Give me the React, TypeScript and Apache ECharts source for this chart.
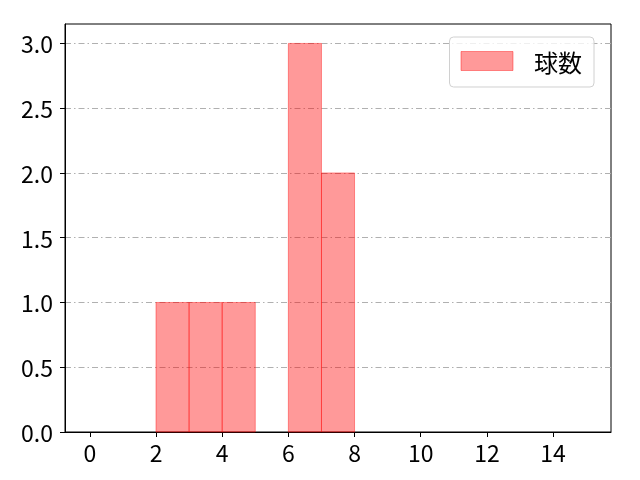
import React, { useEffect, useRef } from 'react';
import * as echarts from 'echarts';

// histogram bins (start, end) and counts
const binStarts = [2, 3, 4, 6, 7];
const binEnds = [3, 4, 5, 7, 8];
const counts = [1, 1, 1, 3, 2];

const xTicks = [0, 2, 4, 6, 8, 10, 12, 14];
const yTicks = [0, 0.5, 1.0, 1.5, 2.0, 2.5, 3.0];
const seriesName = '球数';

const FONT = '"Noto Sans CJK JP", "Noto Sans", sans-serif';
const FILL = 'rgba(255,0,0,0.4)';

export default function App() {
    const chartRef = useRef<HTMLDivElement>(null);

    useEffect(() => {
        const chart = echarts.init(chartRef.current!, null, { renderer: 'svg' });

        const data = binStarts.map((s, i) => [s, binEnds[i], counts[i]]);

        chart.setOption({
            animation: false,
            textStyle: { fontFamily: FONT },
            grid: {
                left: 65,
                right: 29,
                top: 24,
                bottom: 48,
                show: true,
                borderColor: '#000',
                borderWidth: 1,
            },
            legend: {
                right: 46,
                top: 37,
                padding: [12, 12, 14, 11],
                backgroundColor: 'rgba(255,255,255,0.8)',
                borderColor: '#d0d0d0',
                borderWidth: 1,
                borderRadius: 4,
                itemWidth: 52,
                itemHeight: 19,
                data: [{
                    name: seriesName,
                    icon: 'rect',
                    itemStyle: { color: FILL, borderColor: FILL, borderWidth: 1 },
                }],
                textStyle: {
                    fontFamily: FONT,
                    fontSize: 24,
                    color: '#000',
                    padding: [0, 0, 0, 16],
                },
            },
            xAxis: {
                type: 'value',
                min: -0.75,
                max: 15.75,
                axisLine: { show: true, onZero: false, lineStyle: { color: '#000' } },
                axisTick: {
                    show: true,
                    length: 5,
                    lineStyle: { color: '#000' },
                    customValues: xTicks,
                },
                axisLabel: {
                    customValues: xTicks,
                    fontFamily: FONT,
                    fontSize: 23,
                    color: '#000',
                    margin: 8,
                },
                splitLine: { show: false },
            },
            yAxis: {
                type: 'value',
                min: 0,
                max: 3.15,
                axisLine: { show: true, onZero: false, lineStyle: { color: '#000' } },
                axisTick: {
                    show: true,
                    length: 5,
                    lineStyle: { color: '#000' },
                    customValues: yTicks,
                },
                axisLabel: {
                    customValues: yTicks,
                    formatter: (v: number) => v.toFixed(1),
                    fontFamily: FONT,
                    fontSize: 23,
                    color: '#000',
                    margin: 12,
                },
                splitLine: {
                    show: true,
                    lineStyle: { color: '#b0b0b0', width: 1, type: [6, 3, 1.5, 3] },
                },
            },
            series: [
                {
                    type: 'custom',
                    name: seriesName,
                    itemStyle: { color: FILL },
                    encode: { x: [0, 1], y: 2 },
                    data,
                    renderItem: (params: any, api: any) => {
                        const p0 = api.coord([api.value(0), api.value(2)]);
                        const p1 = api.coord([api.value(1), 0]);
                        return {
                            type: 'rect',
                            shape: {
                                x: p0[0],
                                y: p0[1],
                                width: p1[0] - p0[0],
                                height: p1[1] - p0[1],
                            },
                            style: { fill: FILL, stroke: FILL, lineWidth: 1 },
                        };
                    },
                },
            ],
        });

        return () => {
            chart.dispose();
        };
    }, []);

    return (
        <div
            ref={chartRef}
            style={{ position: 'fixed', left: 0, top: 0, width: 640, height: 480 }}
        />
    );
}
